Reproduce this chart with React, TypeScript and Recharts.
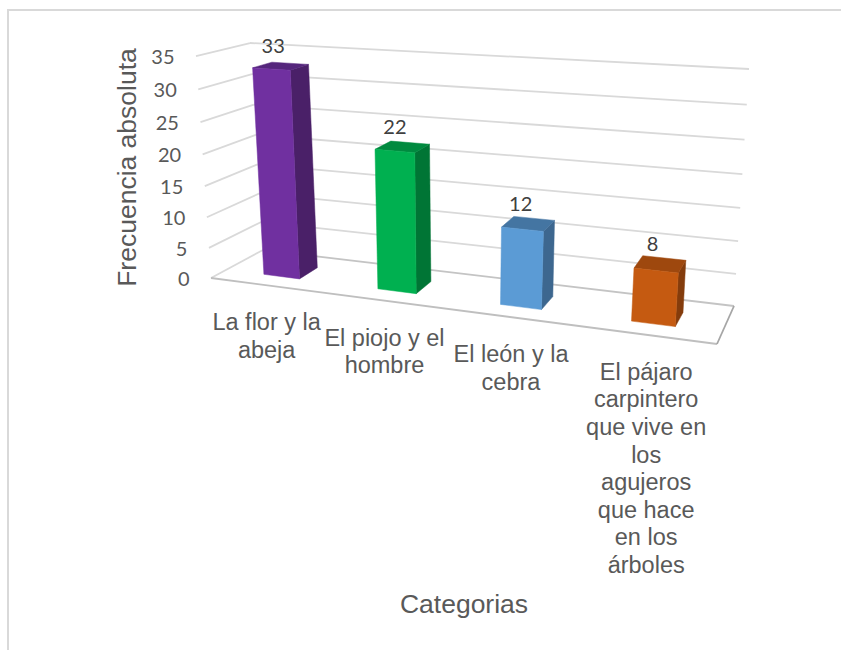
import { Bar, BarChart, CartesianGrid, Label, LabelList, XAxis, YAxis } from "recharts"

const categories = ["La flor y la abeja", "El piojo y el hombre", "El león y la cebra", "El pájaro carpintero que vive en los agujeros que hace en los árboles"]
const values = [33, 22, 12, 8]
const valueTicks = [0, 5, 10, 15, 20, 25, 30, 35]
const categoryLines = [
  ["La flor y la", "abeja"],
  ["El piojo y el", "hombre"],
  ["El león y la", "cebra"],
  ["El pájaro", "carpintero", "que vive en", "los", "agujeros", "que hace", "en los", "árboles"],
]
const frontColors = ["#7030A0", "#00B050", "#5B9BD5", "#C55A11"]
const sideColors = ["#4A2068", "#007535", "#3D678F", "#843C0C"]
const topColors = ["#55267C", "#008A3F", "#4475A2", "#9E480E"]

const chartData = categories.map((name, i) => ({ name, value: values[i] }))

// flat plot area that recharts lays out, gets projected onto the 3D box below
const PLOT = { left: 100, top: 50, width: 500, height: 500 }
const MAX_VALUE = 35

type Pt = [number, number]
const FRONT_BOTTOM_LEFT: Pt = [211, 278]
const FRONT_BOTTOM_RIGHT: Pt = [717, 344]
const FRONT_TOP_LEFT: Pt = [196, 56]
const FRONT_TOP_RIGHT: Pt = [735, 90]
const BACK_BOTTOM_LEFT: Pt = [263, 250]
const BACK_BOTTOM_RIGHT: Pt = [734, 306]
const BACK_TOP_LEFT: Pt = [250, 43]
const BACK_TOP_RIGHT: Pt = [749, 69]

const BAR_FRONT = 0.3
const BAR_BACK = 0.68

const lerp = (a: Pt, b: Pt, t: number): Pt => [a[0] + (b[0] - a[0]) * t, a[1] + (b[1] - a[1]) * t]

function project(u: number, v: number, d: number): Pt {
  // small warp for the foreshortening of the perspective camera
  const fu = u - 0.137 * u * (1 - u)
  const gv = v - 0.06 * v * (1 - v)
  const front = lerp(lerp(FRONT_BOTTOM_LEFT, FRONT_BOTTOM_RIGHT, fu), lerp(FRONT_TOP_LEFT, FRONT_TOP_RIGHT, fu), gv)
  const back = lerp(lerp(BACK_BOTTOM_LEFT, BACK_BOTTOM_RIGHT, fu), lerp(BACK_TOP_LEFT, BACK_TOP_RIGHT, fu), gv)
  return lerp(front, back, d)
}

const toU = (x: number) => (x - PLOT.left) / PLOT.width
const toV = (y: number) => (PLOT.top + PLOT.height - y) / PLOT.height

const poly = (pts: Pt[]) => pts.map((p) => `${p[0].toFixed(1)},${p[1].toFixed(1)}`).join(" ")

function Segment({ a, b, color }: { a: Pt; b: Pt; color: string }) {
  return <line x1={a[0]} y1={a[1]} x2={b[0]} y2={b[1]} stroke={color} strokeWidth={1.8} />
}

function GridLine(props: any) {
  const v = toV(props.y1)
  const isFloor = Math.abs(v) < 0.001
  return (
    <g key={props.key}>
      <Segment a={project(0, v, 0)} b={project(0, v, 1)} color="#D9D9D9" />
      <Segment a={project(0, v, 1)} b={project(1, v, 1)} color={isFloor ? "#C4C4C4" : "#D9D9D9"} />
      {isFloor && <Segment a={project(0, 0, 0)} b={project(1, 0, 0)} color="#BFBFBF" />}
      {isFloor && <Segment a={project(1, 0, 0)} b={project(1, 0, 1)} color="#A6A6A6" />}
    </g>
  )
}

function Bar3D(props: any) {
  const { x, y, width, height, index } = props
  const u0 = toU(x)
  const u1 = toU(x + width)
  const v0 = toV(y + height)
  const v1 = toV(y)
  const front = [project(u0, v0, BAR_FRONT), project(u1, v0, BAR_FRONT), project(u1, v1, BAR_FRONT), project(u0, v1, BAR_FRONT)]
  const side = [project(u1, v0, BAR_FRONT), project(u1, v0, BAR_BACK), project(u1, v1, BAR_BACK), project(u1, v1, BAR_FRONT)]
  const top = [project(u0, v1, BAR_FRONT), project(u1, v1, BAR_FRONT), project(u1, v1, BAR_BACK), project(u0, v1, BAR_BACK)]
  return (
    <g strokeWidth={0.5} strokeLinejoin="round">
      <polygon points={poly(side)} fill={sideColors[index]} stroke={sideColors[index]} />
      <polygon points={poly(top)} fill={topColors[index]} stroke={topColors[index]} />
      <polygon points={poly(front)} fill={frontColors[index]} stroke={frontColors[index]} />
    </g>
  )
}

function BarValue(props: any) {
  const { x, y, width, value } = props
  const u = toU(x + width / 2)
  const v = toV(y)
  const p = project(u, v, (BAR_FRONT + BAR_BACK) / 2)
  return (
    <text x={p[0] - 7.5} y={p[1] - 13} textAnchor="middle" fontFamily="Lato" fontSize={20} fill="#404040">
      {value}
    </text>
  )
}

function ValueTick(props: any) {
  const { y, payload } = props
  const p = project(0, toV(y), 0)
  return (
    <text x={p[0] - 21.5} y={p[1] + 8} textAnchor="end" fontFamily="Lato" fontSize={20} fill="#595959">
      {payload.value}
    </text>
  )
}

function CategoryTick(props: any) {
  const { x, index } = props
  const p = project(toU(x), 0, 0)
  return (
    <text textAnchor="middle" fontFamily="Liberation Sans" fontSize={23.5} fill="#595959">
      {categoryLines[index].map((line, i) => (
        <tspan key={line} x={p[0]} y={p[1] + 45 + i * 27.6}>
          {line}
        </tspan>
      ))}
    </text>
  )
}

export default function App() {
  return (
    <div style={{ position: "absolute", left: 0, top: 0, width: 841, height: 650, background: "#fff", overflow: "hidden" }}>
      <div style={{ position: "absolute", left: 7, top: 9, width: 834, height: 641, borderTop: "2px solid #D9D9D9", borderLeft: "2px solid #D9D9D9" }} />
      <BarChart
        width={841}
        height={650}
        data={chartData}
        margin={{ left: PLOT.left - 1, top: PLOT.top, right: 841 - PLOT.left - PLOT.width, bottom: 650 - PLOT.top - PLOT.height - 1 }}
        style={{ position: "absolute", left: 0, top: 0 }}
      >
        <CartesianGrid vertical={false} horizontal={GridLine as any} />
        <XAxis dataKey="name" height={1} interval={0} axisLine={false} tickLine={false} tick={CategoryTick as any}>
          <Label
            content={() => (
              <text x={464} y={613} textAnchor="middle" fontFamily="Liberation Sans" fontSize={26.5} fill="#595959">
                Categorias
              </text>
            )}
          />
        </XAxis>
        <YAxis width={1} domain={[0, MAX_VALUE]} ticks={valueTicks} interval={0} axisLine={false} tickLine={false} tick={ValueTick as any}>
          <Label
            content={() => (
              <text
                transform="translate(136 167.5) rotate(-90)"
                textAnchor="middle"
                fontFamily="Liberation Sans"
                fontSize={26.5}
                fill="#595959"
              >
                Frecuencia absoluta
              </text>
            )}
          />
        </YAxis>
        <Bar dataKey="value" barSize={40} shape={Bar3D as any} isAnimationActive={false}>
          <LabelList dataKey="value" content={BarValue as any} />
        </Bar>
      </BarChart>
    </div>
  )
}
